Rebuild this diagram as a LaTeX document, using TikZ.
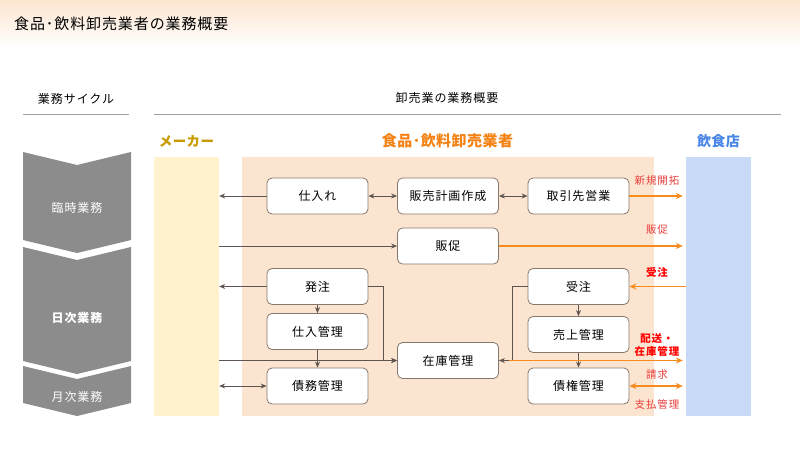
\documentclass[tikz,border=0pt]{standalone}
\usepackage{fontspec}
\setmainfont{Noto Sans CJK JP}
\newfontfamily\spfont{Noto Sans CJK JP}[LetterSpace=8]
\newfontfamily\ttlfont{Noto Sans CJK JP}[LetterSpace=6]
\newfontfamily\hdfont{Noto Sans CJK JP}[LetterSpace=3]
\usetikzlibrary{arrows.meta}
\definecolor{bgpeach}{RGB}{252,229,208}
\definecolor{makerY}{RGB}{255,242,204}
\definecolor{shopB}{RGB}{201,218,248}
\definecolor{chevG}{RGB}{140,140,140}
\definecolor{boxB}{RGB}{135,120,110}
\definecolor{arrG}{RGB}{95,85,80}
\definecolor{arrO}{RGB}{247,140,30}
\definecolor{lblR}{RGB}{232,60,60}
\definecolor{lblRB}{RGB}{255,0,0}
\definecolor{ttlGold}{RGB}{200,155,0}
\definecolor{ttlOrange}{RGB}{245,130,20}
\definecolor{ttlBlue}{RGB}{74,134,232}
\definecolor{lineG}{RGB}{160,160,160}
\tikzset{
  bx/.style={draw=boxB, fill=white, rounded corners=5pt, line width=0.8pt,
    minimum width=101pt, minimum height=36pt, inner sep=0pt,
    font=\fontsize{12}{14}\spfont},
  col/.style={minimum width=65pt, minimum height=259pt, inner sep=0pt, draw=none},
  ga/.style={draw=arrG, line width=0.8pt, -{Stealth[length=6pt,width=5pt]}},
  gaa/.style={draw=arrG, line width=0.8pt, {Stealth[length=6pt,width=5pt]}-{Stealth[length=6pt,width=5pt]}},
  oa/.style={draw=arrO, line width=1.6pt, -{Stealth[length=7pt,width=6pt]}, shorten >=3pt},
  oaa/.style={draw=arrO, line width=1.6pt, {Stealth[length=7pt,width=6pt]}-{Stealth[length=7pt,width=6pt]}, shorten >=3pt},
  lbl/.style={text=lblR, font=\fontsize{10.5}{12}\spfont, inner sep=0pt},
  lblb/.style={text=lblRB, font=\fontsize{10.5}{13.5}\spfont\bfseries, inner sep=0pt, align=center},
  chev/.style={fill=chevG},
  chevtxt/.style={text=white, font=\fontsize{12}{14}\spfont, inner sep=0pt},
  coltitle/.style={font=\fontsize{14}{16}\hdfont\bfseries, inner sep=0pt},
}
\begin{document}
\begin{tikzpicture}[x=1pt, y=-1pt]
\useasboundingbox (0,0) rectangle (800,450);
\fill[white] (0,0) rectangle (800,450);
% header gradient
\shade[top color=bgpeach, bottom color=white] (0,0) rectangle (800,48);
\node[anchor=west, inner sep=0pt, font=\fontsize{15}{17}\ttlfont] (title) at (14,24) {食品･飲料卸売業者の業務概要};

% section headings
\node[inner sep=0pt, font=\fontsize{12}{14}\spfont] (hcyc) at (76,99) {業務サイクル};
\node[inner sep=0pt, font=\fontsize{12}{14}\spfont] (hover) at (447,98) {卸売業の業務概要};
\draw[lineG, line width=1pt] (23,114) -- (129,114);
\draw[lineG, line width=1pt] (154,114) -- (781,114);

% columns
\node[col, fill=makerY] (maker) at (186.5,286.5) {};
\node[col, fill=bgpeach, minimum width=412pt] (whole) at (448,286.5) {};
\node[col, fill=shopB] (shop) at (718.5,286.5) {};
\node[coltitle, text=ttlGold, font=\fontsize{13.5}{16}\hdfont\bfseries] (tmaker) at (186.5,141) {メーカー};
\node[coltitle, text=ttlOrange, font=\fontsize{15}{17}\hdfont\bfseries] (twhole) at (447.5,141) {食品･飲料卸売業者};
\node[coltitle, text=ttlBlue] (tshop) at (718.5,141) {飲食店};

% chevrons
\fill[chev] (23,152) -- (77,165) -- (131,152) -- (131,240) -- (77,253) -- (23,240) -- cycle;
\fill[chev] (23,247) -- (77,260) -- (131,247) -- (131,361) -- (77,374) -- (23,361) -- cycle;
\fill[chev] (23,366) -- (77,379) -- (131,366) -- (131,403) -- (77,416) -- (23,403) -- cycle;
\node[chevtxt] (c1) at (77,208) {臨時業務};
\node[chevtxt, font=\fontsize{12}{14}\spfont\bfseries] (c2) at (77,318) {日次業務};
\node[chevtxt] (c3) at (77,397) {月次業務};

% boxes
\node[bx] (shiire) at (317.5,196) {仕入れ};
\node[bx] (keikaku) at (448,196) {販売計画作成};
\node[bx] (eigyo) at (578.5,196) {取引先営業};
\node[bx] (hansoku) at (448,246) {販促};
\node[bx] (hatchu) at (317.5,286.5) {発注};
\node[bx] (shiirekanri) at (317.5,331.5) {仕入管理};
\node[bx] (saimu) at (317.5,386) {債務管理};
\node[bx] (zaiko) at (448,360.5) {在庫管理};
\node[bx] (juchu) at (578.5,286.5) {受注};
\node[bx] (uriage) at (578.5,334.5) {売上管理};
\node[bx] (saiken) at (578.5,386) {債権管理};

% gray connectors
\draw[ga] (shiire.west) -- (shiire.west -| maker.east);
\draw[gaa] (shiire.east) -- (keikaku.west);
\draw[gaa] (keikaku.east) -- (eigyo.west);
\draw[ga] (hansoku.west -| maker.east) -- (hansoku.west);
\draw[ga] (hatchu.west) -- (hatchu.west -| maker.east);
\draw[ga] (hatchu.south) -- (shiirekanri.north);
\draw[ga] (hatchu.east) -- ++(15,0) |- (zaiko.west);
\draw[ga] (zaiko.west -| maker.east) -- (zaiko.west);
\draw[ga] (shiirekanri.south) -- (saimu.north);
\draw[gaa] (saimu.west) -- (saimu.west -| maker.east);
\draw[ga] (juchu.west) -- ++(-15,0) |- (zaiko.east);
\draw[ga] (juchu.south) -- (uriage.north);
\draw[ga] (uriage.south) -- (saiken.north);

% orange connectors
\draw[oa] (eigyo.east) -- (eigyo.east -| shop.west);
\draw[oa] (hansoku.east) -- (hansoku.east -| shop.west);
\draw[oa, shorten >=0pt] (juchu.east -| shop.west) -- (juchu.east);
\draw[oa] ([xshift=10pt]zaiko.east) -- (zaiko.east -| shop.west);
\draw[oaa, shorten <=0pt] (saiken.east) -- (saiken.east -| shop.west);

% labels
\node[lbl] (l1) at (657,181) {新規開拓};
\node[lbl] (l2) at (657,230) {販促};
\node[lblb] (l3) at (657,272) {受注};
\node[lblb] (l4) at (657,345) {配送・\\在庫管理};
\node[lbl] (l5) at (657,375) {請求};
\node[lbl] (l6) at (657,404) {支払管理};
\end{tikzpicture}
\end{document}
